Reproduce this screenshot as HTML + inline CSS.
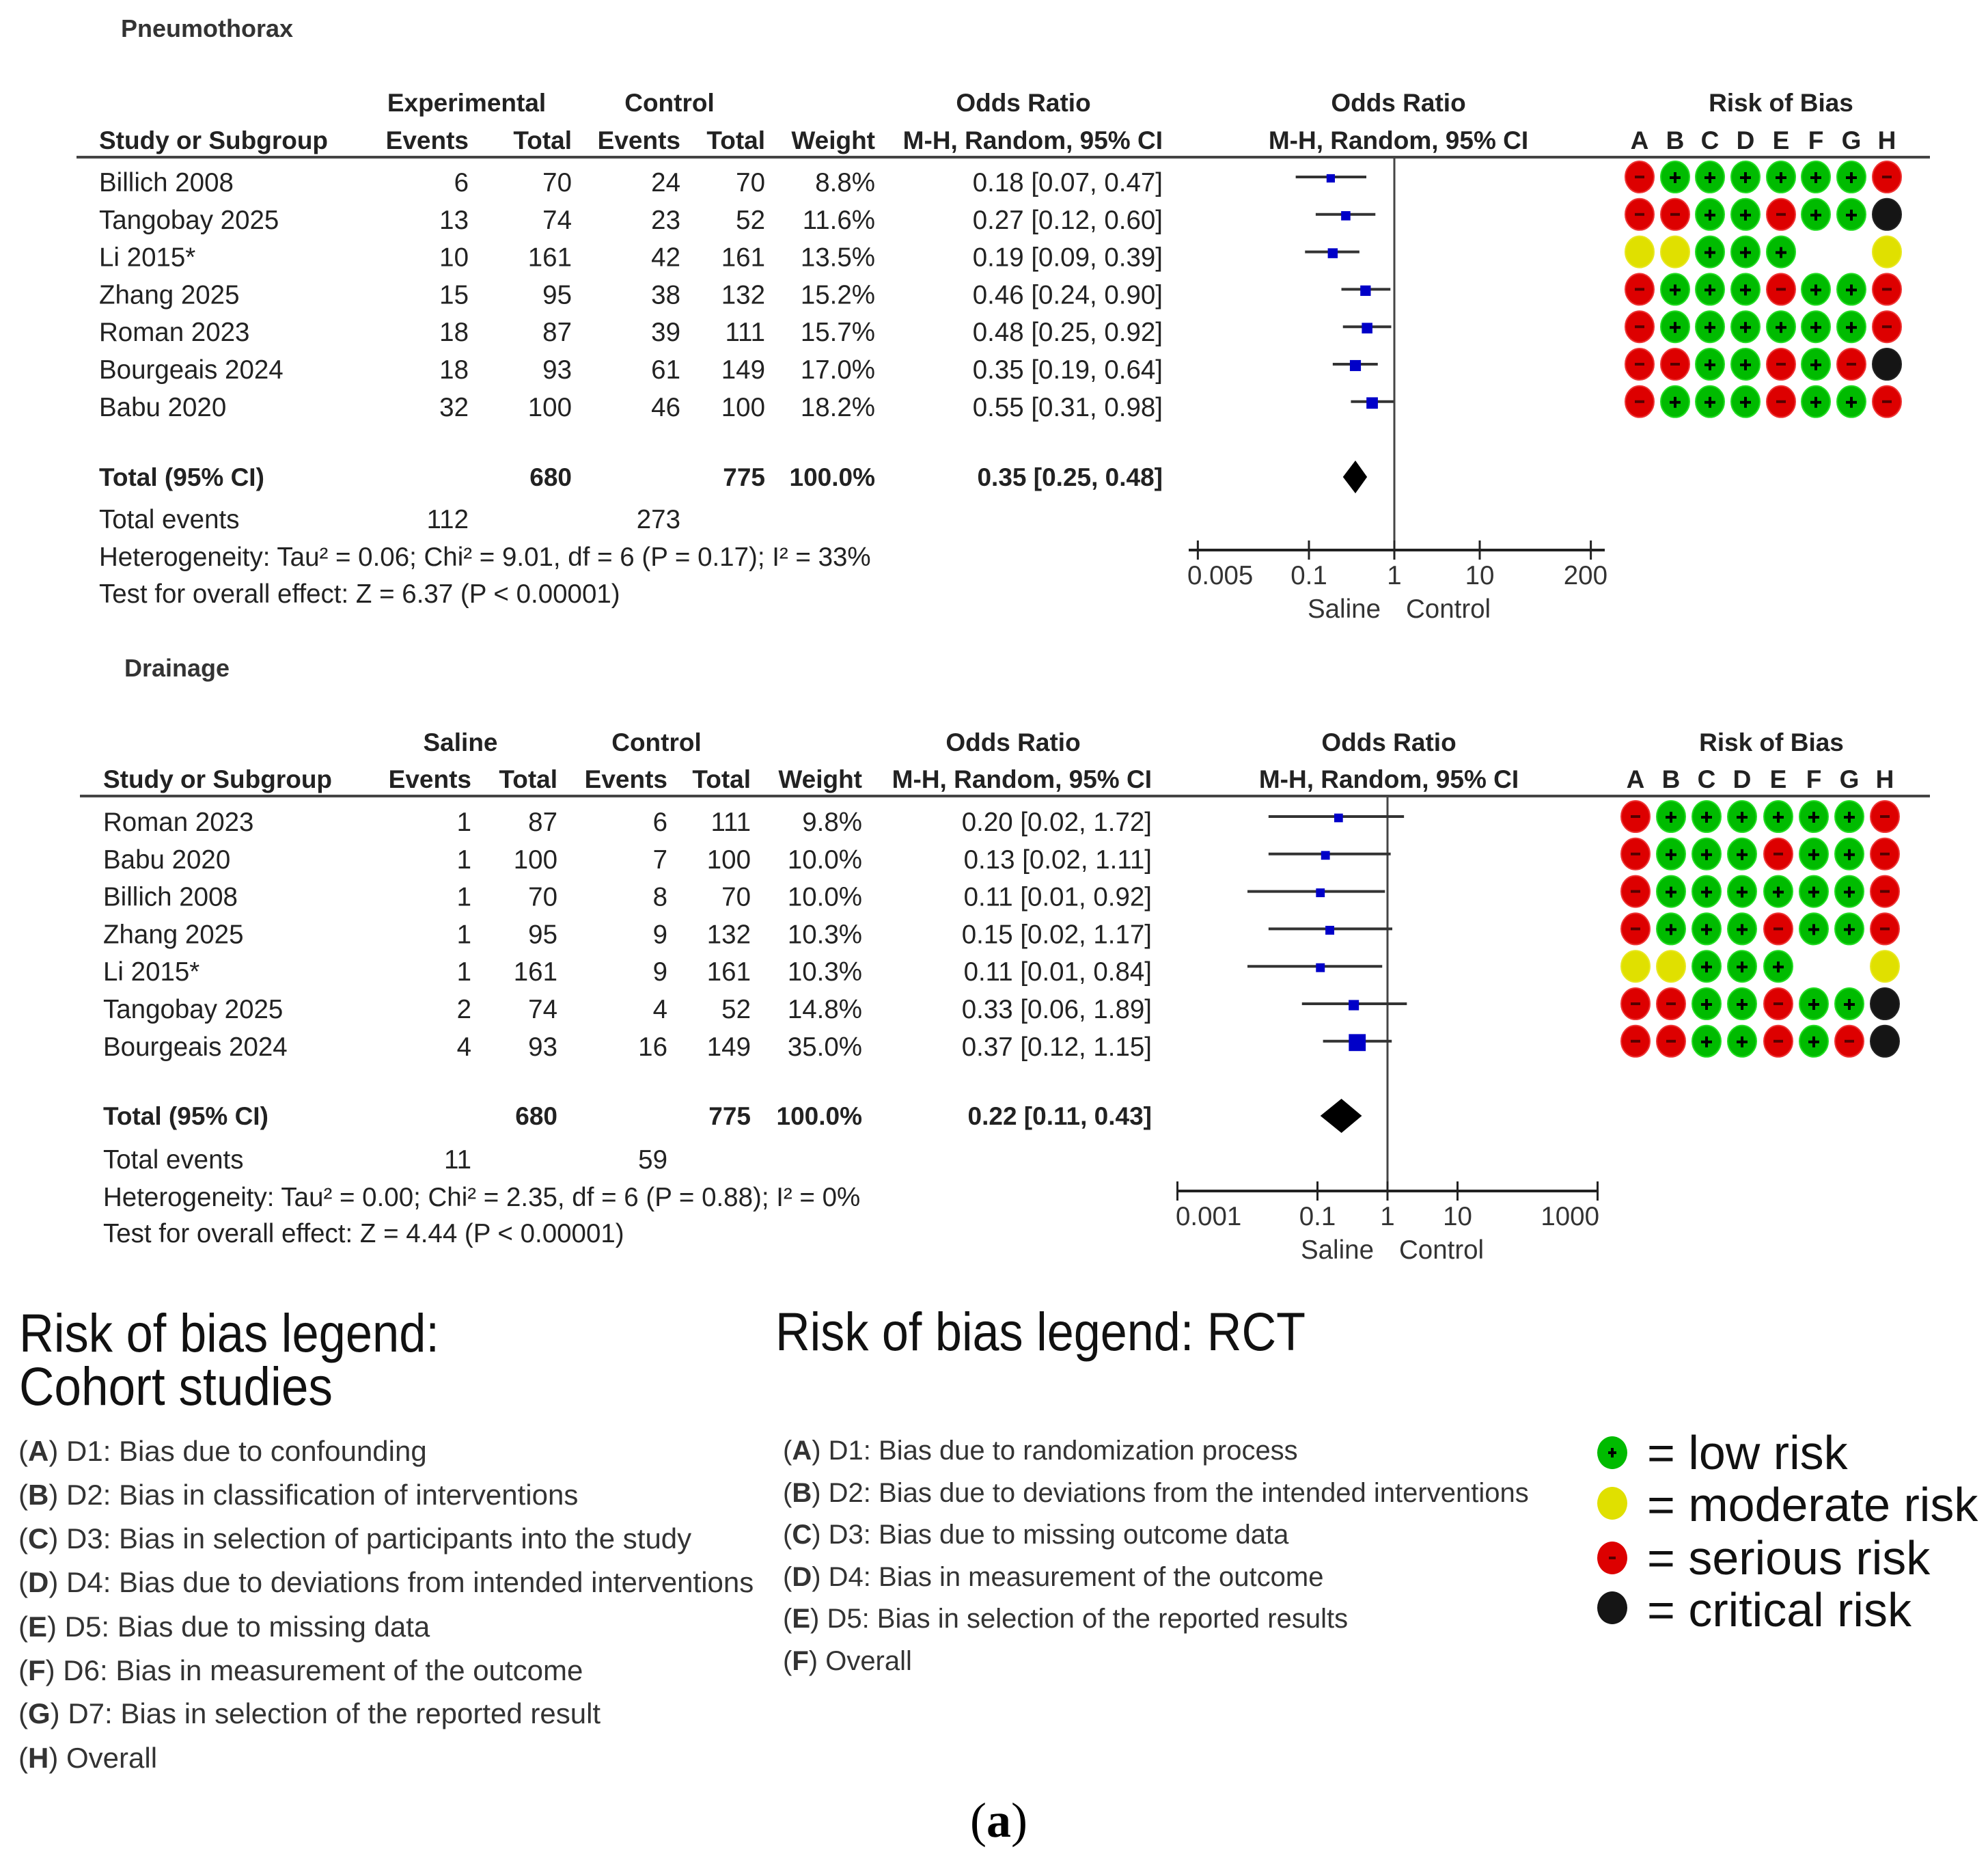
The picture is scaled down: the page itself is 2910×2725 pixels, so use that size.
<!DOCTYPE html>
<html><head><meta charset="utf-8">
<style>
html,body{margin:0;padding:0;background:#fff;}
svg{display:block;font-family:"Liberation Sans",Arial,sans-serif;}
</style></head>
<body>
<svg id="fig" width="2910" height="2725" viewBox="0 0 2910 2725" xmlns="http://www.w3.org/2000/svg"></svg>
<script>
// ---------- Data ----------
const pStudies = ["Billich 2008","Tangobay 2025","Li 2015*","Zhang 2025","Roman 2023","Bourgeais 2024","Babu 2020"];
const pExpEvents = [6,13,10,15,18,18,32];
const pExpTotal = [70,74,161,95,87,93,100];
const pCtlEvents = [24,23,42,38,39,61,46];
const pCtlTotal = [70,52,161,132,111,149,100];
const pWeight = [8.8,11.6,13.5,15.2,15.7,17.0,18.2];
const pOR = [0.18,0.27,0.19,0.46,0.48,0.35,0.55];
const pLo = [0.07,0.12,0.09,0.24,0.25,0.19,0.31];
const pHi = [0.47,0.60,0.39,0.90,0.92,0.64,0.98];
const pTotalOR = [0.35,0.25,0.48];
const pRob = ["-++++++-","--++-++X","YY+++  Y","-+++-++-","-++++++-","--++-+-X","-+++-++-"];
const pTicks = [0.005,0.1,1,10,200];
const pTickLabels = ["0.005","0.1","1","10","200"];

const dStudies = ["Roman 2023","Babu 2020","Billich 2008","Zhang 2025","Li 2015*","Tangobay 2025","Bourgeais 2024"];
const dExpEvents = [1,1,1,1,1,2,4];
const dExpTotal = [87,100,70,95,161,74,93];
const dCtlEvents = [6,7,8,9,9,4,16];
const dCtlTotal = [111,100,70,132,161,52,149];
const dWeight = [9.8,10.0,10.0,10.3,10.3,14.8,35.0];
const dOR = [0.20,0.13,0.11,0.15,0.11,0.33,0.37];
const dLo = [0.02,0.02,0.01,0.02,0.01,0.06,0.12];
const dHi = [1.72,1.11,0.92,1.17,0.84,1.89,1.15];
const dTotalOR = [0.22,0.11,0.43];
const dRob = ["-++++++-","-+++-++-","-++++++-","-+++-++-","YY+++  Y","--++-++X","--++-+-X"];
const dTicks = [0.001,0.1,1,10,1000];
const dTickLabels = ["0.001","0.1","1","10","1000"];

const NS = "http://www.w3.org/2000/svg";
const svg = document.getElementById("fig");
function el(tag, attrs, parent){
  const e = document.createElementNS(NS, tag);
  for (const k in attrs) e.setAttribute(k, attrs[k]);
  (parent||svg).appendChild(e);
  return e;
}
function txt(x,y,s,size,opts){
  opts = opts||{};
  const t = el("text",{x:x,y:y,"font-size":size,fill:opts.fill||"#111","text-anchor":opts.anchor||"start","font-weight":opts.bold?"bold":"normal"});
  if (opts.family) t.setAttribute("font-family", opts.family);
  if (opts.len){ t.setAttribute("textLength", opts.len); t.setAttribute("lengthAdjust","spacingAndGlyphs"); }
  t.textContent = s;
  return t;
}
function fmt(v){return v.toFixed(2);}

function section(cfg){
  const FS = 38.5, HFS = 37;
  const t0 = txt(cfg.titleX, cfg.titleY, cfg.title, 36, {bold:true, fill:"#333"});
  
  
  const hdr = [
    [cfg.grpExpX, cfg.h1, cfg.grpName, "middle"],
    [cfg.grpCtlX, cfg.h1, "Control", "middle"],
    [cfg.orHdrX, cfg.h1, "Odds Ratio", "middle"],
    [cfg.fpHdrX, cfg.h1, "Odds Ratio", "middle"],
    [cfg.robHdrX, cfg.h1, "Risk of Bias", "middle"],
    [cfg.studyX, cfg.h2, "Study or Subgroup", "start"],
    [cfg.c1, cfg.h2, "Events", "end"],
    [cfg.c2, cfg.h2, "Total", "end"],
    [cfg.c3, cfg.h2, "Events", "end"],
    [cfg.c4, cfg.h2, "Total", "end"],
    [cfg.c5, cfg.h2, "Weight", "end"],
    [cfg.c6, cfg.h2, "M-H, Random, 95% CI", "end"],
    [cfg.fpHdrX, cfg.h2, "M-H, Random, 95% CI", "middle"]
  ];
  hdr.forEach(h=>{
    const t = txt(h[0],h[1],h[2],HFS,{bold:true,anchor:h[3],fill:"#222"});
    
    
  });
  const letters = "ABCDEFGH";
  for (let j=0;j<8;j++){
    const t = txt(cfg.robX[j], cfg.h2, letters[j], HFS, {bold:true,anchor:"middle",fill:"#222"});
    
    
  }
  const hl = el("line",{x1:cfg.lineX1,x2:2825,y1:cfg.hLine,y2:cfg.hLine,stroke:"#444","stroke-width":4});
  
  

  const xs = v => cfg.x0 + cfg.k*Math.log10(v);
  const nl = el("line",{x1:xs(1),x2:xs(1),y1:cfg.hLine,y2:cfg.axisY,stroke:"#444","stroke-width":3});
  
  

  for (let i=0;i<cfg.studies.length;i++){
    const my = cfg.row0 + i*cfg.pitch;
    const by = my + 21;
    const cells = [
      [cfg.studyX, cfg.studies[i], "start"],
      [cfg.c1, String(cfg.ee[i]), "end"],
      [cfg.c2, String(cfg.et[i]), "end"],
      [cfg.c3, String(cfg.ce[i]), "end"],
      [cfg.c4, String(cfg.ct[i]), "end"],
      [cfg.c5, cfg.w[i].toFixed(1)+"%", "end"],
      [cfg.c6, fmt(cfg.or[i])+" ["+fmt(cfg.lo[i])+", "+fmt(cfg.hi[i])+"]", "end"]
    ];
    cells.forEach(c=>{
      const t = txt(c[0], by, c[1], FS, {anchor:c[2], fill:"#222"});
      
      
    });
    const ci = el("line",{x1:xs(cfg.lo[i]),x2:xs(cfg.hi[i]),y1:my,y2:my,stroke:"#333","stroke-width":4});
    
    
    const sz = 8 + cfg.w[i]*0.48;
    const sq = el("rect",{x:xs(cfg.or[i])-sz/2,y:my-sz/2+2,width:sz,height:sz,fill:"#0000c8"});
    
    
    for (let j=0;j<8;j++){
      const c = cfg.rob[i][j];
      if (c===" ") continue;
      const fill = c==="+"?"#00bb00":c==="-"?"#dd0000":c==="Y"?"#e0e000":"#151515";
      const stroke = c==="+"?"#22dd22":c==="-"?"#ee3333":c==="Y"?"#e8e820":"#222";
      const cx = cfg.robX[j];
      const e = el("ellipse",{cx:cx,cy:my,rx:21,ry:23,fill:fill,stroke:stroke,"stroke-width":2});
      
      
      if (c==="+"){
        el("line",{x1:cx-8,x2:cx+8,y1:my+1,y2:my+1,stroke:"#000","stroke-width":4});
        el("line",{x1:cx,x2:cx,y1:my-7,y2:my+9,stroke:"#000","stroke-width":4});
      } else if (c==="-"){
        el("line",{x1:cx-7,x2:cx+7,y1:my,y2:my,stroke:"#550000","stroke-width":4});
      }
    }
  }
  const ty = cfg.totalY;
  const tot = [
    [cfg.studyX,"Total (95% CI)","start"],
    [cfg.c2,"680","end"],[cfg.c4,"775","end"],[cfg.c5,"100.0%","end"],
    [cfg.c6, fmt(cfg.tot[0])+" ["+fmt(cfg.tot[1])+", "+fmt(cfg.tot[2])+"]","end"]
  ];
  tot.forEach(c=>{
    const t = txt(c[0], ty+13, c[1], HFS, {bold:true, anchor:c[2], fill:"#222"});
    
    
  });
  const dx1 = xs(cfg.tot[1]), dx2 = xs(cfg.tot[2]), dc = xs(cfg.tot[0]);
  const dm = el("polygon",{points:`${dx1},${ty} ${dc},${ty-cfg.dh} ${dx2},${ty} ${dc},${ty+cfg.dh}`,fill:"#000"});
  
  
  const foot = [
    [cfg.studyX, cfg.fy[0], "Total events", "start"],
    [cfg.evX1, cfg.fy[0], cfg.te[0], "end"],
    [cfg.evX2, cfg.fy[0], cfg.te[1], "end"],
    [cfg.studyX, cfg.fy[1], cfg.het, "start"],
    [cfg.studyX, cfg.fy[2], cfg.test, "start"]
  ];
  foot.forEach(c=>{
    const t = txt(c[0], c[1], c[2], FS, {anchor:c[3], fill:"#222"});
    
    
  });
  const ax = el("line",{x1:cfg.axX1,x2:cfg.axX2,y1:cfg.axisY,y2:cfg.axisY,stroke:"#222","stroke-width":4});
  
  
  cfg.ticks.forEach((v,i)=>{
    const tx = xs(v);
    const tk = el("line",{x1:tx,x2:tx,y1:cfg.axisY-14,y2:cfg.axisY+14,stroke:"#222","stroke-width":3});
    
    
    let anchor = "middle", lx = tx;
    if (i===0){anchor="start"; lx = cfg.axX1-2;}
    if (i===cfg.ticks.length-1){anchor="end"; lx = cfg.axX2+4;}
    const tl = txt(lx, cfg.axisY+50, cfg.tickLabels[i], FS, {anchor:anchor, fill:"#333"});
    
    
  });
  const s1 = txt(xs(1)-20, cfg.axisY+99, "Saline", FS, {anchor:"end", fill:"#333"});
  
  
  const s2 = txt(xs(1)+17, cfg.axisY+99, "Control", FS, {anchor:"start", fill:"#333"});
  
  
}

section({
  key:"pneumothorax", title:"Pneumothorax", titleX:177, titleY:54,
  grpName:"Experimental", grpExpX:683, grpCtlX:980, orHdrX:1498, fpHdrX:2047, robHdrX:2607,
  h1:163, h2:218, hLine:230, lineX1:112,
  studyX:145, c1:686, c2:837, c3:996, c4:1120, c5:1281, c6:1702,
  robX:[2400,2452,2503,2555,2607,2658,2710,2762],
  x0:2041, k:125, row0:259, pitch:54.8,
  studies:pStudies, ee:pExpEvents, et:pExpTotal, ce:pCtlEvents, ct:pCtlTotal, w:pWeight,
  or:pOR, lo:pLo, hi:pHi, rob:pRob, tot:pTotalOR, dh:24, totalY:698,
  fy:[773,828,882], evX1:686, evX2:996, te:["112","273"],
  het:"Heterogeneity: Tau² = 0.06; Chi² = 9.01, df = 6 (P = 0.17); I² = 33%",
  test:"Test for overall effect: Z = 6.37 (P < 0.00001)",
  axisY:805, axX1:1740, axX2:2349, ticks:pTicks, tickLabels:pTickLabels
});

section({
  key:"drainage", title:"Drainage", titleX:182, titleY:990,
  grpName:"Saline", grpExpX:674, grpCtlX:961, orHdrX:1483, fpHdrX:2033, robHdrX:2593,
  h1:1099, h2:1153, hLine:1165, lineX1:117,
  studyX:151, c1:690, c2:816, c3:977, c4:1099, c5:1262, c6:1686,
  robX:[2394,2446,2498,2550,2603,2655,2707,2759],
  x0:2031, k:102.5, row0:1195, pitch:54.8,
  studies:dStudies, ee:dExpEvents, et:dExpTotal, ce:dCtlEvents, ct:dCtlTotal, w:dWeight,
  or:dOR, lo:dLo, hi:dHi, rob:dRob, tot:dTotalOR, dh:25, totalY:1633,
  fy:[1710,1765,1818], evX1:690, evX2:977, te:["11","59"],
  het:"Heterogeneity: Tau² = 0.00; Chi² = 2.35, df = 6 (P = 0.88); I² = 0%",
  test:"Test for overall effect: Z = 4.44 (P < 0.00001)",
  axisY:1743, axX1:1723, axX2:2337, ticks:dTicks, tickLabels:dTickLabels
});

// ---------- Legends ----------
const cohortItems = [
  ["A","D1: Bias due to confounding"],
  ["B","D2: Bias in classification of interventions"],
  ["C","D3: Bias in selection of participants into the study"],
  ["D","D4: Bias due to deviations from intended interventions"],
  ["E","D5: Bias due to missing data"],
  ["F","D6: Bias in measurement of the outcome"],
  ["G","D7: Bias in selection of the reported result"],
  ["H","Overall"]
];
const rctItems = [
  ["A","D1: Bias due to randomization process"],
  ["B","D2: Bias due to deviations from the intended interventions"],
  ["C","D3: Bias due to missing outcome data"],
  ["D","D4: Bias in measurement of the outcome"],
  ["E","D5: Bias in selection of the reported results"],
  ["F","Overall"]
];
const keyLabels = ["= low risk","= moderate risk","= serious risk","= critical risk"];

function legendItem(x,y,letter,label,size,name){
  const t = el("text",{x:x,y:y,"font-size":size,fill:"#333"});
  
  
  const a = el("tspan",{},t); a.textContent="(";
  const b = el("tspan",{"font-weight":"bold"},t); b.textContent=letter;
  const c = el("tspan",{},t); c.textContent=") "+label;
}
const lt1 = txt(28,1978,"Risk of bias legend:",79,{fill:"#111",len:615});


const lt2 = txt(28,2056,"Cohort studies",79,{fill:"#111",len:459});


const cohortY = [2138,2202,2266,2330,2395,2459,2522,2587];
cohortItems.forEach((it,i)=>legendItem(27,cohortY[i],it[0],it[1],42,"cohort-legend-item"));

const lt3 = txt(1135,1976,"Risk of bias legend: RCT",79,{fill:"#111",len:776});


const rctY = [2136,2198,2259,2321,2382,2444];
rctItems.forEach((it,i)=>legendItem(1146,rctY[i],it[0],it[1],40,"rct-legend-item"));

const keyFill = ["#00bb00","#e0e000","#dd0000","#151515"];
const keyCY = [2126,2200,2280,2353];
const keyBY = [2150,2226,2304,2380];
keyLabels.forEach((s,i)=>{
  const c = el("ellipse",{cx:2360,cy:keyCY[i],rx:22,ry:24,fill:keyFill[i]});
  
  
  if (i===0){
    el("line",{x1:2354,x2:2366,y1:keyCY[i],y2:keyCY[i],stroke:"#000","stroke-width":4});
    el("line",{x1:2360,x2:2360,y1:keyCY[i]-7,y2:keyCY[i]+7,stroke:"#000","stroke-width":4});
  } else if (i===2){
    el("line",{x1:2355,x2:2365,y1:keyCY[i],y2:keyCY[i],stroke:"#550000","stroke-width":4});
  }
  const t = txt(2411,keyBY[i],s,70,{fill:"#111"});
  
  
});

const cap = el("text",{x:1462,y:2688,"font-size":72,"text-anchor":"middle","font-family":"'Liberation Serif',serif",fill:"#000"});


const ca = el("tspan",{},cap); ca.textContent="(";
const cb = el("tspan",{"font-weight":"bold"},cap); cb.textContent="a";
const cc = el("tspan",{},cap); cc.textContent=")";
</script>
</body></html>
